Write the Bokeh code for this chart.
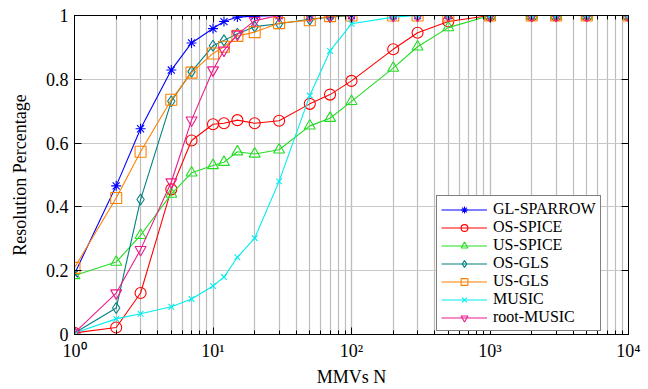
from bokeh.plotting import figure
from bokeh.models import (Legend, LegendItem, LogAxis, LinearAxis, FixedTicker,
                          LogTicker, Range1d)
from bokeh.embed import file_html
from bokeh.resources import INLINE

# ---------------- data ----------------
N = [1, 2, 3, 5, 7, 10, 12, 15, 20, 30, 50, 70, 100, 200, 300, 500,
     1000, 2000, 3000, 5000, 10000]

gl_sparrow = [0.19, 0.466, 0.645, 0.829, 0.914, 0.959, 0.981, 0.995, 0.998, 1, 1,
              1, 1, 1, 1, 1, 1, 1, 1, 1, 1]
os_spice = [0.005, 0.022, 0.13, 0.455, 0.608, 0.659, 0.662, 0.672, 0.662, 0.670, 0.723,
            0.752, 0.795, 0.894, 0.946, 0.981, 1, 1, 1, 1, 1]
us_spice = [0.185, 0.227, 0.311, 0.44, 0.507, 0.53, 0.54, 0.573, 0.566, 0.579, 0.654,
            0.678, 0.731, 0.835, 0.902, 0.962, 1, 1, 1, 1, 1]
os_gls = [0.005, 0.083, 0.423, 0.731, 0.824, 0.905, 0.922, 0.943, 0.965, 0.974, 0.988,
          0.995, 1, 1, 1, 1, 1, 1, 1, 1, 1]
us_gls = [0.209, 0.428, 0.573, 0.736, 0.821, 0.881, 0.902, 0.936, 0.948, 0.976, 0.985,
          0.998, 1, 1, 1, 1, 1, 1, 1, 1, 1]
music = [0.005, 0.049, 0.065, 0.087, 0.111, 0.152, 0.18, 0.242, 0.302, 0.48, 0.749,
         0.889, 0.974, 0.995, 1, 1, 1, 1, 1, 1, 1]
root_music = [0.005, 0.13, 0.266, 0.478, 0.672, 0.829, 0.891, 0.941, 0.984, 1, 1,
              1, 1, 1, 1, 1, 1, 1, 1, 1, 1]

series_names = ["GL-SPARROW", "OS-SPICE", "US-SPICE", "OS-GLS", "US-GLS", "MUSIC", "root-MUSIC"]
series_values = [gl_sparrow, os_spice, us_spice, os_gls, us_gls, music, root_music]
series_colors = ["#0000ff", "#ff0000", "#22dd22", "#008080", "#ff8000", "#00eeee", "#ee1a8c"]
series_markers = ["asterisk", "circle", "triangle", "diamond", "square", "x", "inverted_triangle"]
series_sizes = [10, 11, 11, 11, 11, 8, 11]

x_ticks = [1, 10, 100, 1000, 10000]
x_tick_labels = ["10⁰", "10¹", "10²", "10³", "10⁴"]
y_ticks = [0, 0.2, 0.4, 0.6, 0.8, 1]
y_tick_labels = ["0", "0.2", "0.4", "0.6", "0.8", "1"]

FONT = "Liberation Serif"
FS = "18px"

p = figure(width=648, height=389, x_axis_type="log",
           x_range=Range1d(1, 10000), y_range=Range1d(0, 1),
           output_backend="svg", toolbar_location=None,
           min_border_left=74, min_border_right=20, min_border_top=15,
           min_border_bottom=52)

p.background_fill_color = "white"
p.border_fill_color = "white"
p.outline_line_color = "black"
p.outline_line_width = 1

# grids
p.xgrid.grid_line_color = "#bdbdbd"
p.xgrid.grid_line_width = 1.2
p.xgrid.minor_grid_line_color = "#bdbdbd"
p.xgrid.minor_grid_line_width = 1.2
p.ygrid.grid_line_color = "#c8c8c8"
p.ygrid.grid_line_width = 1.2
p.ygrid.ticker = FixedTicker(ticks=y_ticks)

# axes
xa = p.xaxis[0]
xa.ticker = LogTicker(desired_num_ticks=5, num_minor_ticks=10)
xa.major_label_overrides = {float(t): l for t, l in zip(x_ticks, x_tick_labels)}
xa.axis_label = "MMVs N"
ya = p.yaxis[0]
ya.ticker = FixedTicker(ticks=y_ticks)
ya.major_label_overrides = {t: l for t, l in zip(y_ticks, y_tick_labels)}
ya.axis_label = "Resolution Percentage"

for ax in [xa, ya]:
    ax.axis_line_color = "black"
    ax.major_tick_in = 7
    ax.major_tick_out = 0
    ax.minor_tick_in = 4
    ax.minor_tick_out = 0
    ax.major_tick_line_color = "black"
    ax.minor_tick_line_color = "black"
    ax.major_label_text_font = FONT
    ax.major_label_text_font_size = FS
    ax.major_label_text_color = "black"
    ax.axis_label_text_font = FONT
    ax.axis_label_text_font_size = FS
    ax.axis_label_text_font_style = "normal"
    ax.axis_label_text_color = "black"
ya.minor_tick_line_color = None
xa.major_label_standoff = 6
xa.axis_label_standoff = 3
ya.major_label_standoff = 6
ya.axis_label_standoff = 13

top = LogAxis(ticker=LogTicker(desired_num_ticks=5, num_minor_ticks=10),
              major_tick_in=7, major_tick_out=0, minor_tick_in=4, minor_tick_out=0,
              major_label_text_alpha=0, major_label_text_font_size="1px",
              major_label_standoff=0, axis_line_color="black")
right = LinearAxis(ticker=FixedTicker(ticks=y_ticks),
                   major_tick_in=7, major_tick_out=0, minor_tick_out=0, minor_tick_in=0,
                   major_label_text_alpha=0, major_label_text_font_size="1px",
                   major_label_standoff=0, axis_line_color="black")
p.add_layout(top, "above")
p.add_layout(right, "right")

items = []
for name, vals, col, mk, sz in zip(series_names, series_values, series_colors,
                                    series_markers, series_sizes):
    lr = p.line(N, vals, line_color=col, line_width=1.1)
    sr = p.scatter(N, vals, marker=mk, size=sz, line_color=col, fill_color=None,
                   line_width=1.1)
    items.append(LegendItem(label=name, renderers=[lr, sr]))

legend = Legend(items=items, location=(362, 3))
legend.label_text_font = FONT
legend.label_text_font_size = "16px"
legend.label_text_color = "black"
legend.glyph_width = 46
legend.glyph_height = 17
legend.label_height = 17
legend.spacing = 0
legend.padding = 4
legend.margin = 0
legend.label_standoff = 6
legend.border_line_color = "black"
legend.border_line_width = 1
legend.background_fill_alpha = 1
p.add_layout(legend, "center")

open("out.html", "w").write(file_html(p, INLINE))
